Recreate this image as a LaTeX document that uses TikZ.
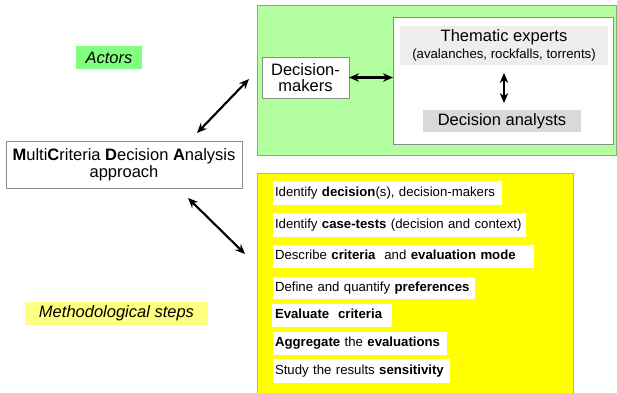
\documentclass[tikz,border=0pt]{standalone}
\usepackage{fontspec}
\setmainfont{Liberation Sans}
\usetikzlibrary{arrows.meta,calc}
\definecolor{greenbg}{HTML}{B3FF9F}
\definecolor{greenlab}{HTML}{80FF80}
\definecolor{greenborder}{HTML}{8CA585}
\definecolor{yellowbg}{HTML}{FFFF00}
\definecolor{yellowlab}{HTML}{FFFF80}
\definecolor{yellowborder}{HTML}{B4B48C}
\definecolor{boxborder}{HTML}{8C8C8C}
\definecolor{lightgray}{HTML}{EEEEEE}
\definecolor{midgray}{HTML}{D9D9D9}
\begin{document}
\begin{tikzpicture}[x=1pt,y=-1pt,
  big/.style={font=\fontsize{16.5}{16.5}\selectfont},
  corner/.style={anchor=north west, inner sep=0pt, outer sep=0pt},
  whitebox/.style={corner, draw=boxborder, line width=0.8pt, fill=white, align=center},
  stepbox/.style={corner, fill=white, align=left, inner xsep=2pt, text height=9.6pt, text depth=2.8pt, font=\fontsize{13.2}{15}\selectfont},
  arr/.style={{Stealth[length=10pt,width=8.5pt]}-{Stealth[length=10pt,width=8.5pt]}, line width=2.1pt},
]
\clip (0,0) rectangle (617,392);
\useasboundingbox (0,0) rectangle (617,392);

% Actors area
\node[corner, draw=greenborder, line width=0.8pt, fill=greenbg, minimum width=359pt, minimum height=150pt] (actorsarea) at (257,5) {};
\node[whitebox, minimum width=220pt, minimum height=127pt] (inner) at (393,17) {};
\node[corner, fill=lightgray, minimum width=208pt, minimum height=39pt, align=center, big] (thematic) at (400,26)
  {Thematic experts\\[1pt]{\fontsize{13.2}{15}\selectfont (avalanches, rockfalls, torrents)}};
\node[corner, fill=midgray, minimum width=158pt, minimum height=22pt, big] (analysts) at (423,110) {Decision analysts};
\node[whitebox, minimum width=87pt, minimum height=41pt, big] (dm) at (262,57) {Decision-\\makers};

\draw[arr] (dm.east) -- (dm.east -| inner.west);
\draw[arr, shorten <=8pt, shorten >=7pt] (thematic.south) -- (thematic.south |- analysts.north);

% labels
\node[corner, fill=greenlab, minimum width=66pt, minimum height=23pt, font=\fontsize{16.5}{16.5}\selectfont\itshape] (actorslab) at (76,46) {Actors};
\node[corner, fill=yellowlab, minimum width=183pt, minimum height=23pt, font=\fontsize{16.5}{16.5}\selectfont\itshape] (methlab) at (25,302) {Methodological steps};

% MCDA
\node[whitebox, minimum width=236pt, minimum height=47pt, big] (mcda) at (6,141)
  {\textbf{M}ulti\textbf{C}riteria \textbf{D}ecision \textbf{A}nalysis\\approach};

% Steps area
\node[corner, draw=yellowborder, line width=0.8pt, fill=yellowbg, minimum width=316pt, minimum height=227pt] (stepsarea) at (257,173) {};
\node[stepbox, text width=225pt, minimum height=24pt] (s1) at (273,181) {Identify \textbf{decision}(s), decision-makers};
\node[stepbox, text width=249pt, minimum height=24pt] (s2) at (273,213) {Identify \textbf{case-tests} (decision and context)};
\node[stepbox, text width=257pt, minimum height=23pt] (s3) at (273,245) {Describe \textbf{criteria}\ \ and \textbf{evaluation mode}};
\node[stepbox, text width=198pt, minimum height=22pt] (s4) at (273,277) {Define and quantify \textbf{preferences}};
\node[stepbox, text width=114pt, minimum height=23pt, inner xsep=3pt] (s5) at (272,304) {\textbf{Evaluate\ \ criteria}};
\node[stepbox, text width=170pt, minimum height=23pt] (s6) at (273,332) {\textbf{Aggregate} the \textbf{evaluations}};
\node[stepbox, text width=173pt, minimum height=24pt] (s7) at (273,359) {Study the results \textbf{sensitivity}};

% diagonal arrows
\coordinate (ua) at (197,133);
\coordinate (ub) at (249,79);
\coordinate (la) at (188,198);
\coordinate (lb) at (245,254);
\draw[arr] (ua) -- (ub);
\draw[arr] (la) -- (lb);
\end{tikzpicture}
\end{document}
